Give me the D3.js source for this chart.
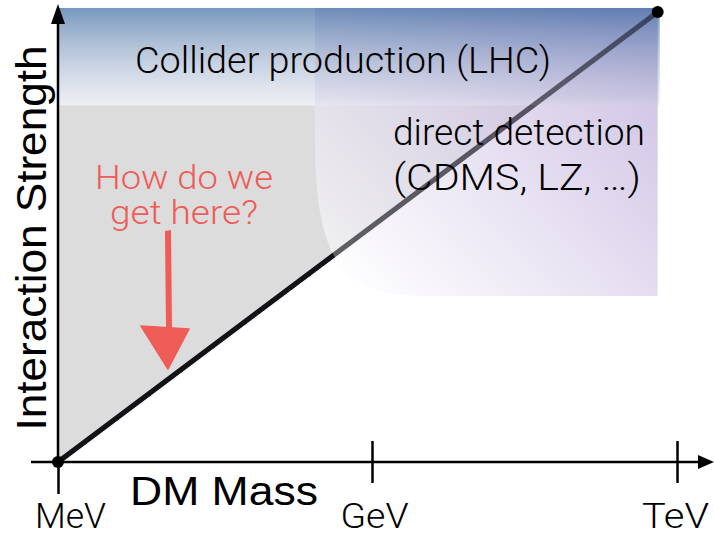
<!DOCTYPE html>
<html><head><meta charset="UTF-8"><title>DM mass vs interaction strength</title>
<script src="https://cdn.jsdelivr.net/npm/d3@7"></script>
<style>
	body	{ margin:0; background:#fff; }
	svg	{ display:block; }
	.lt	{ font-family:Roboto, "Liberation Sans", sans-serif; font-weight:300; }
	.rg	{ font-family:"Liberation Sans", Arial, sans-serif; font-weight:400; }
</style>
</head><body>
<svg width="714" height="534"></svg>
<script>
// tick labels along the mass axis, at log10(mass/GeV)
var massLabels=["MeV","GeV","TeV"];
var massLog10=[-3,0,3];
// the diagonal "thermal" line: mass (log10 GeV) vs strength (0..1)
var lineMass=[-3,2.81];
var lineStrength=[0,1];
// regions
var colliderMass=[-3,2.83], colliderStrength=[0.793,1.009];
var directMass=[-0.545,2.81], directStrength=[0.369,1.009];

var svg=d3.select('svg');
var x=d3.scaleLinear().domain(massLog10).range([58,372,677]);
var y=d3.scaleLinear().domain([0,1]).range([462,12]);
var defs=svg.append('defs');

// gradients
var gc=defs.append('linearGradient').attr('id','gCol').attr('x1',0).attr('y1',0).attr('x2',0).attr('y2',1);
gc.append('stop').attr('offset',0).attr('stop-color','rgb(20,76,142)').attr('stop-opacity',0.58);
gc.append('stop').attr('offset',0.9).attr('stop-color','rgb(170,180,205)').attr('stop-opacity',0.3);
gc.append('stop').attr('offset',1).attr('stop-color','rgb(210,214,228)').attr('stop-opacity',0.35);
var gd=defs.append('linearGradient').attr('id','gDir').attr('x1',0).attr('y1',1).attr('x2',1).attr('y2',0.2);
gd.append('stop').attr('offset',0.05).attr('stop-color','#ffffff').attr('stop-opacity',0.6);
gd.append('stop').attr('offset',1).attr('stop-color','#b8a6d8').attr('stop-opacity',0.68);

// grey allowed triangle above the line, below the collider band
var sTop=colliderStrength[0];
var mTop=lineMass[0]+(lineMass[1]-lineMass[0])*(sTop-lineStrength[0])/(lineStrength[1]-lineStrength[0]);
svg.append('path')
	.attr('d','M'+x(lineMass[0])+','+y(lineStrength[0])+'L'+x(lineMass[0])+','+y(sTop)+'L'+x(mTop)+','+y(sTop)+'Z')
	.attr('fill','#dcdcdc');

// the line
var pts=lineMass.map(function(m,i){return [x(m),y(lineStrength[i])];});
var ln=d3.line();
svg.append('path').attr('d',ln(pts))
	.attr('stroke','#000').attr('stroke-width',5).attr('fill','none').attr('stroke-linecap','round');

// direct detection region with rounded lower-left corner
var dx0=x(directMass[0]), dx1=x(directMass[1]), dy0=y(directStrength[1]), dy1=y(directStrength[0]);
var p=d3.path();
p.moveTo(dx0,dy0);
p.lineTo(dx0,dy0+130);
p.bezierCurveTo(dx0,dy1-30,dx0+30,dy1,dx0+110,dy1);
p.lineTo(dx1,dy1);
p.lineTo(dx1,dy0);
p.closePath();
svg.append('path').attr('d',p.toString()).attr('fill','url(#gDir)');

// collider band
svg.append('rect')
	.attr('x',x(colliderMass[0])).attr('y',y(colliderStrength[1]))
	.attr('width',x(colliderMass[1])-x(colliderMass[0]))
	.attr('height',y(colliderStrength[0])-y(colliderStrength[1]))
	.attr('fill','url(#gCol)');

// line seen through the bands
svg.append('path').attr('d',ln(pts))
	.attr('stroke','#26262e').attr('stroke-opacity',0.5).attr('stroke-width',5).attr('fill','none');

// end points
svg.selectAll('circle.end').data(pts).enter().append('circle')
	.attr('class','end').attr('cx',function(d){return d[0];}).attr('cy',function(d){return d[1];})
	.attr('r',6).attr('fill','#000');

// axes
var tickW=[71,68,67];
var xAxis=d3.axisBottom(x).tickValues(massLog10).tickFormat(function(d,i){return massLabels[i];}).tickSize(0);
var ga=svg.append('g').attr('transform','translate(0,'+y(0)+')').call(xAxis);
ga.select('.domain').remove();
ga.selectAll('.tick line').attr('y1',function(d,i){return i? -21:0;}).attr('y2',function(d,i){return i? 21:32;})
	.attr('stroke','#000').attr('stroke-width',2.5);
ga.selectAll('.tick text').attr('class','lt').attr('y',0).attr('dy',66).attr('font-size',35).attr('fill','#000')
	.attr('dx',function(d,i){return i==0?12:i==1?2:-2;})
	.attr('textLength',function(d,i){return tickW[i];}).attr('lengthAdjust','spacingAndGlyphs');
svg.append('line').attr('x1',31).attr('x2',700).attr('y1',y(0)).attr('y2',y(0)).attr('stroke','#000').attr('stroke-width',2.5);
svg.append('path').attr('d','M714,'+y(0)+'L698,'+(y(0)-7)+'L698,'+(y(0)+7)+'Z').attr('fill','#000');
svg.append('line').attr('x1',x(-3)).attr('x2',x(-3)).attr('y1',y(0)).attr('y2',22).attr('stroke','#000').attr('stroke-width',2.5);
svg.append('path').attr('d','M'+x(-3)+',4L'+(x(-3)-7)+',24L'+(x(-3)+7)+',24Z').attr('fill','#000');

// labels
function label(cls,size,tx,ty,len,txt,col){
	return svg.append('text').attr('class',cls).attr('font-size',size).attr('text-anchor','middle')
		.attr('x',tx).attr('y',ty).attr('textLength',len).attr('lengthAdjust','spacingAndGlyphs')
		.attr('fill',col||'#000').text(txt);
}
label('rg',41,224,505,188,'DM Mass');
label('rg',42,0,0,385,'Interaction Strength').attr('transform','translate(46,238) rotate(-90)');
label('lt',36,343,73,416,'Collider production (LHC)');
label('lt',36,519,145,252,'direct detection');
label('lt',36,517,190,248,'(CDMS, LZ, …)');
label('lt',34,184,189,178,'How do we','#ef5b56');
label('lt',34,184,224,148,'get here?','#ef5b56');

// hand drawn arrow
svg.append('path').attr('d','M165,231L171,230L172,328L166,328Z').attr('fill','#ef5b56');
svg.append('path').attr('d','M141,326L189,329L168,369Z').attr('fill','#ef5b56').attr('stroke','#ef5b56').attr('stroke-width',1.5).attr('stroke-linejoin','round');
</script>
</body></html>
